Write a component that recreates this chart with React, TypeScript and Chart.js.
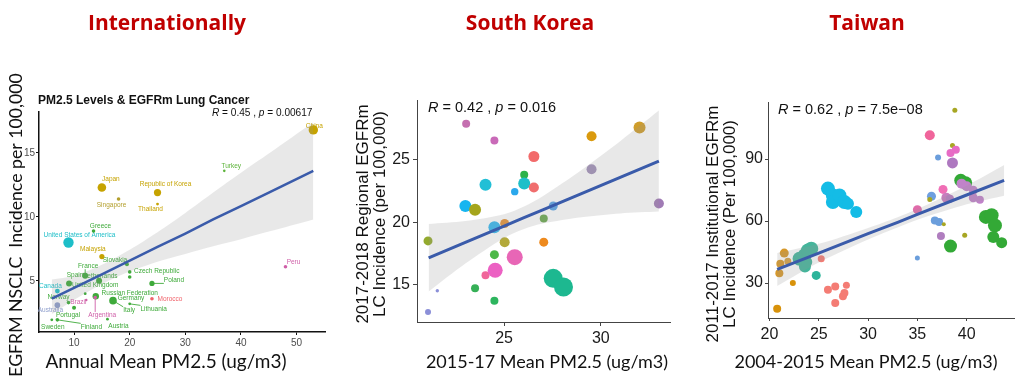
import React, { useEffect, useRef } from "react";
import { Chart, registerables } from "chart.js";
Chart.register(...registerables);

const SANS = '"Liberation Sans", Arial, Helvetica, sans-serif';
const CAL = 'Lato, "Open Sans", sans-serif';
const HEAD = '"Open Sans", Lato, sans-serif';
const BAND = "rgba(150,150,150,0.22)";
const FIT = "#3A5BAA";

// ================= Internationally =================
const intlCountries = [
  "China", "Turkey", "Japan", "Republic of Korea", "Singapore", "Thailand", "Greece",
  "United States of America", "Malaysia", "Slovakia", "France", "Czech Republic", "Spain",
  "Netherlands", "Poland", "Canada", "United Kingdom", "Russian Federation", "Norway",
  "Germany", "Morocco", "Brazil", "Australia", "Lithuania", "Italy", "Portugal",
  "Argentina", "Sweden", "Finland", "Austria", "Peru", "",
];
const intlPm25 = [
  53.0, 37.0, 15.0, 25.0, 18.0, 25.0, 13.5, 9.0, 15.0, 19.5, 12.0, 20.0, 9.1, 14.5, 24.0, 7.0,
  12.0, 13.9, 9.0, 17.0, 24.0, 12.2, 7.0, 20.0, 17.2, 10.0, 13.8, 6.0, 7.0, 16.0, 48.0, 20.0,
];
const intlIncidence = [
  16.8, 13.6, 12.3, 11.9, 11.4, 11.0, 8.9, 8.0, 6.9, 6.3, 5.4, 5.7, 4.8, 5.0, 4.8, 4.2, 4.0,
  3.8, 3.3, 3.45, 3.6, 3.5, 3.1, 3.2, 3.4, 2.9, 3.7, 1.95, 1.95, 2.0, 6.1, 5.3,
];
const intlRegion = [
  "asia", "mideast", "asia", "asia", "asia2", "asia", "europe", "namerica", "asia", "europe",
  "europe", "europe", "europe", "europe", "europe", "namerica", "europe", "europe", "europe",
  "europe", "africa", "latam", "oceania", "europe", "europe", "europe", "latam", "europe",
  "europe", "europe", "latam", "europe",
];
const intlRadius = [
  4.7, 1.3, 4.3, 3.6, 1.8, 1.4, 1.8, 5.2, 2.6, 2.0, 3.0, 1.8, 3.0, 3.0, 2.6, 2.4, 1.4, 3.2,
  1.8, 3.8, 1.8, 1.2, 2.8, 1.4, 2.0, 2.0, 1.8, 1.4, 1.8, 1.4, 1.8, 1.8,
];
const intlLabelDx = [
  1, 7, 9, 8, -7, -7, 7, 11, -9, -12, 3, 27, 6, 1, 22, -7, 10, 34, -10, 18, 18, -8, -7, 24, 15,
  -6, 7, 1, 34, 11, 8, 0,
];
const intlLabelDy = [
  -4, -5, -8, -8, 6, 5, -5, -7, -7, -4, -10, -1, -8, -5, -3, -5, -8, -3, -5, -2, 0, 2, 5, 5, 9,
  8, 18, 7, 7, 7, -5, 0,
];
const intlFitX = [6, 10, 15, 20, 25, 30, 35, 40, 45, 53];
const intlFitY = [3.6, 4.45, 5.5, 6.58, 7.65, 8.7, 9.8, 10.85, 11.9, 13.6];
const intlFitLow = [2.4, 3.5, 4.75, 5.73, 6.5, 7.1, 7.7, 8.25, 8.85, 9.8];
const intlFitHigh = [5.1, 5.4, 6.25, 7.43, 8.8, 10.3, 11.9, 13.45, 14.95, 17.4];
const intlXTicks = [10, 20, 30, 40, 50];
const intlYTicks = [5, 10, 15];

const regionColor: Record<string, string> = {
  asia: "#C6A300",
  asia2: "#B39F2C",
  mideast: "#5DB33A",
  europe: "#3EAA3A",
  namerica: "#1DBEC8",
  oceania: "#8E9ECC",
  latam: "#CF5FA8",
  africa: "#F0626A",
};

// ================= South Korea =================
const krPm25 = [
  21.07, 21.07, 21.55, 23.04, 23.0, 23.5, 24.04, 23.5, 24.04, 24.54, 24.5, 24.5, 24.5, 24.5,
  25.03, 25.03, 25.55, 25.55, 26.04, 26.04, 26.54, 26.54, 27.05, 27.05, 27.54, 27.54, 28.07,
  29.52, 29.52, 32.0, 33.0,
];
const krIncidence = [
  18.5, 12.8, 14.5, 27.9, 21.3, 21.0, 23.0, 14.7, 15.75, 16.15, 26.55, 19.6, 17.4, 13.7, 19.9,
  18.4, 22.45, 17.2, 23.8, 23.1, 25.27, 22.78, 20.3, 18.4, 21.3, 15.5, 14.8, 26.9, 24.25, 27.6,
  21.5,
];
const krRadius = [
  4.5, 3, 1.7, 4, 6, 6, 6, 4, 4, 7.5, 4, 6, 4.5, 4, 4.5, 5, 3.7, 8, 4, 6, 5.5, 5, 4, 4.5, 4.5,
  9.5, 9.5, 5, 5, 6, 5,
];
const krColor = [
  "#93AA2E", "#8B8FD8", "#8B8FD8", "#C56FB0", "#17B5F0", "#A5A51C", "#22BFD6", "#36B057",
  "#F0669A", "#EC61C3", "#C96AB8", "#35B8F0", "#4CB848", "#2DB55E", "#E59238", "#B3A93A",
  "#2BA8EC", "#E866B6", "#2BB34A", "#1EBFC9", "#F26B6B", "#F06E6E", "#6BA84F", "#EE8A1E",
  "#5AA5E8", "#1DB890", "#1DB890", "#DA9A0E", "#A291B9", "#CF9D2B", "#A07BB5",
];
const krFitX = [21.1, 23, 25, 26, 27, 29, 31, 33];
const krFitY = [17.15, 18.39, 19.69, 20.34, 20.99, 22.29, 23.6, 24.9];
const krFitLow = [14.45, 16.69, 18.74, 19.44, 19.89, 20.39, 20.7, 20.85];
const krFitHigh = [19.85, 20.09, 20.64, 21.24, 22.09, 24.19, 26.5, 28.95];
const krXTicks = [25, 30];
const krYTicks = [15, 20, 25];

// ================= Taiwan =================
const twPm25 = [
  20.78, 21.0, 21.1, 21.5, 21.86, 22.37,
  23.05, 23.56, 23.9, 24.24, 23.73, 23.6, 24.74,
  25.25, 25.93, 26.67, 26.67, 27.45, 27.6, 27.8,
  25.93, 26.43, 26.43, 27.1, 27.6, 27.96, 28.8,
  35.0, 35.0, 36.26, 36.43, 36.26, 37.1, 36.77, 37.2, 37.68, 37.6, 37.94, 38.3, 37.39, 38.36,
  38.56, 38.36, 38.9, 38.56, 38.8, 39.8, 39.4, 39.9,
  39.48, 40.0, 40.67, 40.67, 41.34,
  41.95, 42.53, 42.87, 42.7, 43.55,
];
const twIncidence = [
  17.6, 34.8, 39.4, 44.5, 40.5, 30.0,
  41.8, 43.4, 45.8, 46.6, 40.2, 38.0, 33.7,
  41.8, 26.8, 28.4, 20.3, 23.6, 25.2, 28.9,
  75.7, 72.4, 69.2, 72.4, 69.2, 68.4, 64.4,
  65.5, 42.1, 101.5, 72.0, 70.4, 90.7, 60.3, 59.5, 58.4, 75.3, 71.3, 70.8, 52.75, 47.9,
  96.6, 92.9, 94.5, 88.1, 113.6, 53.1, 79.7, 78.5,
  78.1, 76.8, 74.9, 71.3, 70.35,
  62.0, 62.8, 57.9, 52.3, 49.55,
];
const twRadius = [
  4, 4, 4, 4.5, 3.5, 3,
  7, 7, 7, 7, 6, 6, 4.5,
  3.5, 4, 4, 4, 4, 4, 3.5,
  7, 7, 7, 7, 7, 6, 6,
  4.5, 2.5, 5, 4.5, 2.5, 3, 4, 4, 2, 4.5, 5, 4, 4, 6.5,
  2.5, 4, 4, 5.5, 2.5, 2.5, 6.5, 6.5,
  5, 5, 4.5, 4.5, 4,
  7, 7, 7, 6, 5.5,
];
const twColor = [
  "#D8920A", "#D6982A", "#D6982A", "#D6982A", "#D6A040", "#D8920A",
  "#45B59B", "#45B59B", "#45B59B", "#45B59B", "#45B59B", "#45B59B", "#2DB49A",
  "#F47C74", "#F47C74", "#F47C74", "#F47C74", "#F47C74", "#F47C74", "#F47C74",
  "#14BCE6", "#14BCE6", "#14BCE6", "#14BCE6", "#14BCE6", "#14BCE6", "#14BCE6",
  "#E06BAA", "#6B9EDC", "#F0659B", "#6E9FE0", "#A7A623", "#6B9EDC", "#6B9EDC", "#6B9EDC",
  "#A7A623", "#F06EB5", "#C77DBE", "#B57BC0", "#B07EBF", "#33A936",
  "#A7A623", "#E76BC5", "#E76BC5", "#AE78C0", "#A7A623", "#A7A623", "#33A936", "#33A936",
  "#C083C9", "#C083C9", "#C083C9", "#C083C9", "#C083C9",
  "#33A936", "#33A936", "#33A936", "#33A936", "#33A936",
];
const twFitX = [20.78, 25, 30, 33, 35, 40, 43.8];
const twFitY = [36.6, 44.5, 53.9, 59.4, 63.2, 72.6, 79.7];
const twFitLow = [28.6, 40.0, 51.1, 56.9, 60.6, 68.1, 72.3];
const twFitHigh = [44.6, 49.0, 56.7, 61.9, 65.8, 77.1, 87.1];
const twXTicks = [20, 25, 30, 35, 40];
const twYTicks = [30, 60, 90];

// ================= helpers =================
type Rich = [string, boolean][];
type TextItem = {
  text: string;
  x: number;
  y: number;
  font: string;
  color?: string;
  rotate?: boolean;
  align?: CanvasTextAlign;
};

function drawRich(ctx: CanvasRenderingContext2D, parts: Rich, x: number, y: number, size: number) {
  let cx = x;
  ctx.textAlign = "left";
  ctx.textBaseline = "middle";
  ctx.fillStyle = "#111";
  for (const [t, it] of parts) {
    ctx.font = `${it ? "italic " : ""}${size}px ${SANS}`;
    ctx.fillText(t, cx, y);
    cx += ctx.measureText(t).width;
  }
}

function overlayPlugin(id: string, texts: TextItem[], stats: { parts: Rich; x: number; y: number; size: number }) {
  return {
    id,
    afterDraw(chart: any) {
      const ctx: CanvasRenderingContext2D = chart.ctx;
      ctx.save();
      for (const t of texts) {
        ctx.save();
        ctx.font = t.font;
        ctx.fillStyle = t.color || "#111";
        ctx.textAlign = t.align || "center";
        ctx.textBaseline = "middle";
        ctx.translate(t.x, t.y);
        if (t.rotate) ctx.rotate(-Math.PI / 2);
        ctx.fillText(t.text, 0, 0);
        ctx.restore();
      }
      drawRich(ctx, stats.parts, stats.x, stats.y, stats.size);
      ctx.restore();
    },
  };
}

const labelPlugin = {
  id: "countryLabels",
  beforeDatasetsDraw(chart: any) {
    const meta = chart.getDatasetMeta(0);
    const ctx: CanvasRenderingContext2D = chart.ctx;
    ctx.save();
    ctx.font = `6.5px ${SANS}`;
    ctx.textAlign = "center";
    ctx.textBaseline = "middle";
    intlCountries.forEach((name, i) => {
      if (!name) return;
      const el = meta.data[i];
      if (!el) return;
      const col = regionColor[intlRegion[i]];
      const lx = el.x + intlLabelDx[i];
      const ly = el.y + intlLabelDy[i];
      const w = ctx.measureText(name).width;
      const bx = Math.max(lx - w / 2, Math.min(el.x, lx + w / 2));
      const by = Math.max(ly - 3.5, Math.min(el.y, ly + 3.5));
      const d = Math.hypot(bx - el.x, by - el.y);
      if (d > 6) {
        ctx.strokeStyle = col;
        ctx.lineWidth = 0.9;
        ctx.beginPath();
        ctx.moveTo(el.x, el.y);
        ctx.lineTo(bx, by);
        ctx.stroke();
      }
      ctx.fillStyle = col;
      ctx.fillText(name, lx, ly);
    });
    ctx.restore();
  },
};

function makeScales(o: {
  xMin: number; xMax: number; yMin: number; yMax: number;
  xTicks: number[]; yTicks: number[];
  yWidth: number; xHeight: number;
  fontSize: number; tickColor: string; axisColor: string; axisWidth: number;
  tickLen: number; xPad: number; yPad: number;
}) {
  const common = (ticks: number[]) => ({
    type: "linear" as const,
    afterBuildTicks: (s: any) => {
      s.ticks = ticks.map((v) => ({ value: v }));
    },
    ticks: {
      font: { family: SANS, size: o.fontSize },
      color: o.tickColor,
      autoSkip: false,
      maxRotation: 0,
      callback: (v: any) => String(v),
    },
    grid: {
      display: true,
      drawOnChartArea: false,
      drawTicks: true,
      tickLength: o.tickLen,
      tickColor: o.axisColor,
      tickWidth: 1,
    },
    border: { display: true, color: o.axisColor, width: o.axisWidth },
  });
  const x: any = common(o.xTicks);
  x.min = o.xMin;
  x.max = o.xMax;
  x.ticks.padding = o.xPad;
  x.afterFit = (s: any) => {
    s.height = o.xHeight;
  };
  const y: any = common(o.yTicks);
  y.min = o.yMin;
  y.max = o.yMax;
  y.ticks.padding = o.yPad;
  y.afterFit = (s: any) => {
    s.width = o.yWidth;
  };
  return { x, y };
}

function fitDatasets(fx: number[], fy: number[], lo: number[], hi: number[], lineWidth: number) {
  return [
    {
      type: "line",
      data: fx.map((x, i) => ({ x, y: lo[i] })),
      borderWidth: 0,
      pointRadius: 0,
      fill: false,
      tension: 0.3,
      order: 2,
    },
    {
      type: "line",
      data: fx.map((x, i) => ({ x, y: hi[i] })),
      borderWidth: 0,
      pointRadius: 0,
      fill: "-1",
      backgroundColor: BAND,
      tension: 0.3,
      order: 1,
    },
    {
      type: "line",
      data: fx.map((x, i) => ({ x, y: fy[i] })),
      borderColor: FIT,
      borderWidth: lineWidth,
      pointRadius: 0,
      fill: false,
      order: 0,
    },
  ];
}

function baseOptions(padTop: number, padRight: number, scales: any) {
  return {
    responsive: false,
    animation: false,
    devicePixelRatio: 1,
    events: [],
    layout: { padding: { left: 0, top: padTop, right: padRight, bottom: 0 } },
    plugins: { legend: { display: false }, tooltip: { enabled: false }, title: { display: false } },
    scales,
  };
}

function intlConfig(): any {
  return {
    type: "scatter",
    data: {
      datasets: [
        {
          data: intlPm25.map((x, i) => ({ x, y: intlIncidence[i] })),
          pointRadius: intlRadius,
          backgroundColor: intlRegion.map((r) => regionColor[r]),
          borderWidth: 0,
          order: 3,
        },
        ...fitDatasets(intlFitX, intlFitY, intlFitLow, intlFitHigh, 2.5),
      ],
    },
    options: baseOptions(
      112,
      15,
      makeScales({
        xMin: 3.7, xMax: 55.1, yMin: 1.0, yMax: 18.2,
        xTicks: intlXTicks, yTicks: intlYTicks,
        yWidth: 39, xHeight: 53, fontSize: 10, tickColor: "#4D4D4D",
        axisColor: "#111", axisWidth: 1.5, tickLen: 3, xPad: 2, yPad: 1,
      })
    ),
    plugins: [
      labelPlugin,
      overlayPlugin(
        "intlText",
        [
          { text: "PM2.5 Levels & EGFRm Lung Cancer", x: 38, y: 101, font: `bold 12px ${SANS}`, align: "left" },
          { text: "Annual Mean PM2.5 (ug/m3)", x: 166, y: 362, font: `19px ${CAL}` },
          { text: "EGFRM NSCLC  Incidence per 100,000", x: 16, y: 225, font: `17.7px ${CAL}`, rotate: true },
        ],
        { parts: [["R", true], [" = 0.45 , ", false], ["p", true], [" = 0.00617", false]], x: 212, y: 113, size: 10.1 }
      ),
    ],
  };
}

function krConfig(): any {
  return {
    type: "scatter",
    data: {
      datasets: [
        {
          data: krPm25.map((x, i) => ({ x, y: krIncidence[i] })),
          pointRadius: krRadius,
          backgroundColor: krColor,
          borderWidth: 0,
          order: 3,
        },
        ...fitDatasets(krFitX, krFitY, krFitLow, krFitHigh, 3),
      ],
    },
    options: baseOptions(
      100,
      7,
      makeScales({
        xMin: 20.5, xMax: 33.6, yMin: 12.0, yMax: 29.8,
        xTicks: krXTicks, yTicks: krYTicks,
        yWidth: 77, xHeight: 63, fontSize: 16, tickColor: "#1A1A1A",
        axisColor: "#444", axisWidth: 1, tickLen: 4, xPad: 3, yPad: 3,
      })
    ),
    plugins: [
      overlayPlugin(
        "krText",
        [
          { text: "2017-2018 Regional EGFRm", x: 23, y: 214, font: `17px ${SANS}`, rotate: true },
          { text: "LC Incidence (per 100,000)", x: 40, y: 214, font: `17px ${SANS}`, rotate: true },
          { text: "2015-17 Mean PM2.5 (ug/m3)", x: 207, y: 362, font: `18px ${CAL}` },
        ],
        { parts: [["R", true], [" = 0.42 , ", false], ["p", true], [" = 0.016", false]], x: 88, y: 108, size: 14.5 }
      ),
    ],
  };
}

function twConfig(): any {
  return {
    type: "scatter",
    data: {
      datasets: [
        {
          data: twPm25.map((x, i) => ({ x, y: twIncidence[i] })),
          pointRadius: twRadius,
          backgroundColor: twColor,
          borderWidth: 0,
          order: 3,
        },
        ...fitDatasets(twFitX, twFitY, twFitLow, twFitHigh, 3),
      ],
    },
    options: baseOptions(
      102,
      7,
      makeScales({
        xMin: 19.85, xMax: 44.8, yMin: 13.1, yMax: 117.6,
        xTicks: twXTicks, yTicks: twYTicks,
        yWidth: 88, xHeight: 67, fontSize: 16, tickColor: "#1A1A1A",
        axisColor: "#444", axisWidth: 1, tickLen: 3, xPad: 4, yPad: 2,
      })
    ),
    plugins: [
      overlayPlugin(
        "twText",
        [
          { text: "2011-2017 Institutional EGFRm", x: 33, y: 224, font: `17px ${SANS}`, rotate: true },
          { text: "LC Incidence (Per 100,000)", x: 50, y: 224, font: `17px ${SANS}`, rotate: true },
          { text: "2004-2015 Mean PM2.5 (ug/m3)", x: 186, y: 362, font: `18px ${CAL}` },
        ],
        { parts: [["R", true], [" = 0.62 , ", false], ["p", true], [" = 7.5e\u221208", false]], x: 98, y: 110, size: 14.5 }
      ),
    ],
  };
}

function ChartBox({ left, width, make }: { left: number; width: number; make: () => any }) {
  const ref = useRef<HTMLCanvasElement | null>(null);
  useEffect(() => {
    if (!ref.current) return;
    const chart = new Chart(ref.current, make());
    return () => chart.destroy();
  }, []);
  return (
    <div style={{ position: "absolute", left, top: 0, width, height: 385 }}>
      <canvas ref={ref} width={width} height={385} style={{ width, height: 385, display: "block" }} />
    </div>
  );
}

const headStyle = (cx: number): React.CSSProperties => ({
  position: "absolute",
  left: cx,
  top: 7,
  transform: "translateX(-50%)",
  fontFamily: HEAD,
  fontWeight: 700,
  fontSize: 21,
  lineHeight: "30px",
  color: "#C00000",
  whiteSpace: "nowrap",
});

export default function App() {
  return (
    <div
      style={{
        position: "fixed",
        left: 0,
        top: 0,
        width: 1021,
        height: 385,
        background: "#fff",
        overflow: "hidden",
      }}
    >
      <ChartBox left={0} width={340} make={intlConfig} />
      <ChartBox left={340} width={340} make={krConfig} />
      <ChartBox left={680} width={341} make={twConfig} />
      <div style={headStyle(167)}>Internationally</div>
      <div style={headStyle(530)}>South Korea</div>
      <div style={headStyle(867)}>Taiwan</div>
    </div>
  );
}
